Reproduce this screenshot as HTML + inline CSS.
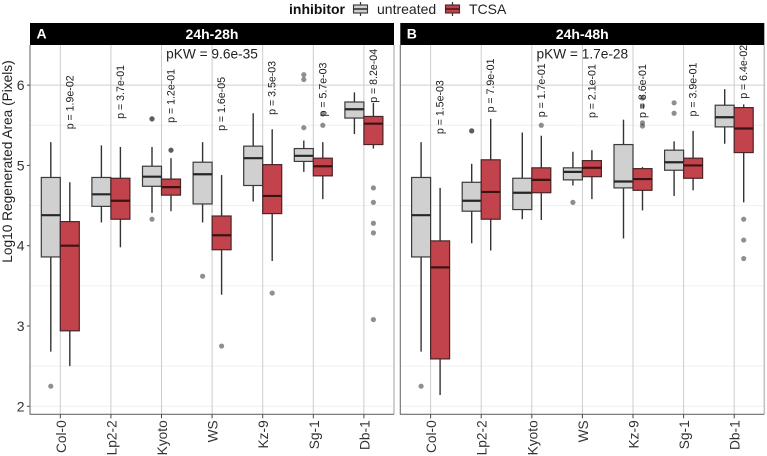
<!DOCTYPE html>
<html lang="en">
<head>
<meta charset="utf-8">
<title>Regenerated area boxplots</title>
<style>
html,body{margin:0;padding:0;background:#fff;width:767px;height:456px;overflow:hidden}
svg{display:block;font-family:"Liberation Sans",Arial,sans-serif;filter:blur(0.3px)}
</style>
</head>
<body>
<svg id="chart" xmlns="http://www.w3.org/2000/svg" width="767" height="456" viewBox="0 0 767 456">
  <rect x="0" y="0" width="767" height="456" fill="#fff"/>
  <g>
    <text x="289" y="14" font-size="14" font-weight="bold" fill="#111">inhibitor</text>
    <g>
      <line x1="360.5" x2="360.5" y1="2" y2="16" stroke="#333" stroke-width="1.2"/>
      <rect x="353.5" y="5" width="14" height="8" fill="#d0d0d0" stroke="#333" stroke-width="1.1"/>
      <line x1="353.5" x2="367.5" y1="9" y2="9" stroke="#333" stroke-width="1.6"/>
      <text x="377" y="14" font-size="14" fill="#222">untreated</text>
    </g>
    <g>
      <line x1="452.5" x2="452.5" y1="2" y2="16" stroke="#333" stroke-width="1.2"/>
      <rect x="445.5" y="5" width="14" height="8" fill="#c2434b" stroke="#4a2426" stroke-width="1.1"/>
      <line x1="445.5" x2="459.5" y1="9" y2="9" stroke="#4a1a1c" stroke-width="1.6"/>
      <text x="469" y="14" font-size="14" fill="#222">TCSA</text>
    </g>
  </g>
  <text transform="translate(12 161.5) rotate(-90)" text-anchor="middle" font-size="13.7" fill="#222">Log10 Regenerated Area (Pixels)</text>
</svg>
<script>
const categories = ["Col-0", "Lp2-2", "Kyoto", "WS", "Kz-9", "Sg-1", "Db-1"];
const yTicks = [2, 3, 4, 5, 6];
const yStrongGrid = [6];
const yLightGrid = [5.5, 4.5, 3.5, 2.5, 2];

const aUntreatedLow = [2.68, 4.29, 4.41, 4.29, 4.55, 4.92, 5.39];
const aUntreatedQ1 = [3.86, 4.49, 4.74, 4.52, 4.75, 5.05, 5.59];
const aUntreatedMedian = [4.38, 4.64, 4.86, 4.89, 5.09, 5.12, 5.70];
const aUntreatedQ3 = [4.85, 4.85, 4.99, 5.04, 5.24, 5.21, 5.79];
const aUntreatedHigh = [5.29, 5.25, 5.23, 5.29, 5.65, 5.31, 5.91];
const aUntreatedOutliers = [[2.25], [], [4.33, 5.58, 5.58], [3.62], [], [6.13, 6.07, 5.47], []];

const aTcsaLow = [2.50, 3.98, 4.43, 3.39, 3.81, 4.58, 5.21];
const aTcsaQ1 = [2.94, 4.33, 4.63, 3.95, 4.40, 4.87, 5.26];
const aTcsaMedian = [4.00, 4.56, 4.73, 4.13, 4.62, 4.99, 5.52];
const aTcsaQ3 = [4.30, 4.84, 4.83, 4.37, 5.01, 5.09, 5.61];
const aTcsaHigh = [4.79, 5.23, 5.09, 4.88, 5.45, 5.29, 5.78];
const aTcsaOutliers = [[], [], [5.19, 5.19], [2.75], [3.41], [5.50, 5.64], [4.72, 4.54, 4.28, 4.16, 3.08]];

const bUntreatedLow = [2.68, 4.03, 4.33, 4.75, 4.09, 4.62, 5.27];
const bUntreatedQ1 = [3.86, 4.43, 4.45, 4.82, 4.72, 4.94, 5.48];
const bUntreatedMedian = [4.38, 4.56, 4.66, 4.92, 4.80, 5.04, 5.60];
const bUntreatedQ3 = [4.85, 4.79, 4.84, 4.97, 5.26, 5.19, 5.75];
const bUntreatedHigh = [5.29, 5.02, 5.41, 5.17, 5.57, 5.30, 5.95];
const bUntreatedOutliers = [[2.25], [5.43, 5.43], [], [4.54], [], [5.78, 5.65], []];

const bTcsaLow = [2.14, 3.94, 4.32, 4.58, 4.44, 4.69, 4.54];
const bTcsaQ1 = [2.59, 4.33, 4.66, 4.86, 4.69, 4.84, 5.16];
const bTcsaMedian = [3.73, 4.67, 4.82, 4.97, 4.83, 5.00, 5.46];
const bTcsaQ3 = [4.06, 5.07, 4.97, 5.06, 4.96, 5.09, 5.72];
const bTcsaHigh = [4.72, 5.58, 5.37, 5.19, 4.98, 5.43, 5.76];
const bTcsaOutliers = [[], [], [5.50], [], [5.84, 5.74, 5.53, 5.49], [], [4.33, 4.07, 3.84]];

const aPValues = ["p = 1.9e-02", "p = 3.7e-01", "p = 1.2e-01", "p = 1.6e-05", "p = 3.5e-03", "p = 5.7e-03", "p = 8.2e-04"];
const aPHeights = [5.45, 5.58, 5.53, 5.43, 5.63, 5.61, 5.78];
const bPValues = ["p = 1.5e-03", "p = 7.9e-01", "p = 1.7e-01", "p = 2.1e-01", "p = 8.6e-01", "p = 3.9e-01", "p = 6.4e-02"];
const bPHeights = [5.39, 5.66, 5.60, 5.59, 5.59, 5.61, 5.83];

const NS = "http://www.w3.org/2000/svg";
const svg = document.getElementById("chart");
const TOP = 45, BOTTOM = 414.3, DMIN = 1.9, DMAX = 6.5;

function yScale(v) {
  return BOTTOM - (v - DMIN) / (DMAX - DMIN) * (BOTTOM - TOP);
}
function xScale(left, i) {
  return left + 30.3 + i * 50.6;
}
function make(parent, tag, attrs, text) {
  const n = document.createElementNS(NS, tag);
  for (const k in attrs) n.setAttribute(k, attrs[k]);
  if (text !== undefined) n.textContent = text;
  parent.appendChild(n);
  return n;
}

function drawSeries(g, left, offset, series, fill, stroke, medianStroke, key) {
  const bw = 19;
  categories.forEach(function (cat, i) {
    const cx = xScale(left, i) + offset;
    const group = make(g, "g", {});
    
    

    const w = make(group, "line", {x1: cx, x2: cx, y1: yScale(series.low[i]), y2: yScale(series.high[i]), stroke: "#333", "stroke-width": 1.4});
    
    

    const top = yScale(series.q3[i]);
    const r = make(group, "rect", {x: cx - bw / 2, y: top, width: bw, height: yScale(series.q1[i]) - top, fill: fill, stroke: stroke, "stroke-width": 1.2});
    
    

    const m = make(group, "line", {x1: cx - bw / 2, x2: cx + bw / 2, y1: yScale(series.median[i]), y2: yScale(series.median[i]), stroke: medianStroke, "stroke-width": 2.2});
    
    

    series.outliers[i].forEach(function (v) {
      const c = make(group, "circle", {cx: cx, cy: yScale(v), r: 2.6, fill: "#333", "fill-opacity": 0.55});
      
      
    });
  });
}

function drawPanel(left, key, letter, title, pkw, untreated, tcsa, pValues, pHeights) {
  const width = 364;
  const g = make(svg, "g", {});
  
  

  yStrongGrid.forEach(function (v) {
    const l = make(g, "line", {x1: left, x2: left + width, y1: yScale(v), y2: yScale(v), stroke: "#cfcfcf", "stroke-width": 1});
    
    
  });
  yLightGrid.forEach(function (v) {
    const l = make(g, "line", {x1: left, x2: left + width, y1: yScale(v), y2: yScale(v), stroke: "#efefef", "stroke-width": 1});
    
    
  });
  categories.forEach(function (cat, i) {
    const x = xScale(left, i);
    const l = make(g, "line", {x1: x, x2: x, y1: TOP, y2: BOTTOM, stroke: "#cccccc", "stroke-width": 1});
    
    
  });

  const edge = make(g, "line", {x1: left + width, x2: left + width, y1: TOP, y2: BOTTOM, stroke: "#c4c4c4", "stroke-width": 1.6});
  
  
  const yLine = make(g, "line", {x1: left, x2: left, y1: TOP, y2: BOTTOM + 0.5, stroke: "#6e6e6e", "stroke-width": 1.1});
  
  
  const xLine = make(g, "line", {x1: left, x2: left + width, y1: BOTTOM, y2: BOTTOM, stroke: "#6e6e6e", "stroke-width": 1.1});
  
  

  const strip = make(g, "rect", {x: left, y: 23, width: width, height: 22, fill: "#000"});
  
  
  const tagText = make(g, "text", {x: left + 6.5, y: 38.5, "font-size": 14, "font-weight": "bold", fill: "#fff"}, letter);
  
  
  const titleText = make(g, "text", {x: left + 182, y: 39, "font-size": 14, "font-weight": "bold", fill: "#fff", "text-anchor": "middle"}, title);
  
  

  drawSeries(g, left, -9.5, untreated, "#d0d0d0", "#3a3a3a", "#262626", key + '-untreated');
  drawSeries(g, left, 9.5, tcsa, "#c2434b", "#4a2426", "#3c1315", key + '-tcsa');

  categories.forEach(function (cat, i) {
    const x = xScale(left, i);
    const t = make(g, "line", {x1: x, x2: x, y1: BOTTOM, y2: BOTTOM + 4, stroke: "#444", "stroke-width": 1});
    
    

    const lab = make(g, "text", {transform: "translate(" + (x + 5.5) + " " + (BOTTOM + 6) + ") rotate(-90)", "text-anchor": "end", "font-size": 13.7, fill: "#333"}, cat);
    
    

    const p = make(g, "text", {transform: "translate(" + (x + 9.5 + 3.5) + " " + yScale(pHeights[i]) + ") rotate(-90)", "font-size": 10.6, fill: "#222"}, pValues[i]);
    
    
  });

  const kw = make(g, "text", {x: left + 182, y: 58.5, "font-size": 13.7, fill: "#222", "text-anchor": "middle"}, pkw);
  
  
}

yTicks.forEach(function (v) {
  const t = make(svg, "line", {x1: 27, x2: 30, y1: yScale(v), y2: yScale(v), stroke: "#444", "stroke-width": 1});
  
  
  const lab = make(svg, "text", {x: 24.5, y: yScale(v) + 5, "text-anchor": "end", "font-size": 14, fill: "#333"}, String(v));
  
  
});

drawPanel(30, "a", "A", "24h-28h", "pKW = 9.6e-35",
  {low: aUntreatedLow, q1: aUntreatedQ1, median: aUntreatedMedian, q3: aUntreatedQ3, high: aUntreatedHigh, outliers: aUntreatedOutliers},
  {low: aTcsaLow, q1: aTcsaQ1, median: aTcsaMedian, q3: aTcsaQ3, high: aTcsaHigh, outliers: aTcsaOutliers},
  aPValues, aPHeights);
drawPanel(400.3, "b", "B", "24h-48h", "pKW = 1.7e-28",
  {low: bUntreatedLow, q1: bUntreatedQ1, median: bUntreatedMedian, q3: bUntreatedQ3, high: bUntreatedHigh, outliers: bUntreatedOutliers},
  {low: bTcsaLow, q1: bTcsaQ1, median: bTcsaMedian, q3: bTcsaQ3, high: bTcsaHigh, outliers: bTcsaOutliers},
  bPValues, bPHeights);
</script>
</body>
</html>
